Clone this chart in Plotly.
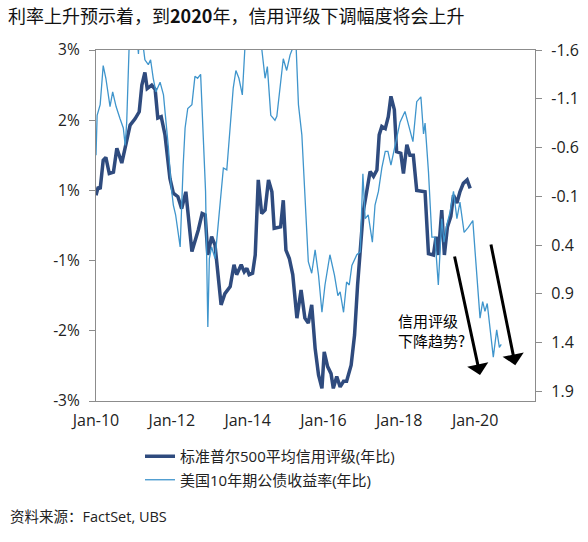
import plotly.graph_objects as go

# ---- data ----
credit_t = [2010.00, 2010.06, 2010.11, 2010.19, 2010.26, 2010.35, 2010.46, 2010.55, 2010.68, 2010.79,
            2010.90, 2011.03, 2011.14, 2011.21, 2011.29, 2011.35, 2011.47, 2011.56, 2011.63, 2011.72,
            2011.82, 2011.95, 2012.04, 2012.16, 2012.26, 2012.37, 2012.53, 2012.70, 2012.80, 2012.88,
            2012.95, 2013.05, 2013.14, 2013.30, 2013.40, 2013.54, 2013.64, 2013.71, 2013.83, 2013.91,
            2013.98, 2014.04, 2014.13, 2014.20, 2014.28, 2014.37, 2014.46, 2014.55, 2014.64, 2014.70,
            2014.87, 2014.94, 2015.01, 2015.10, 2015.19, 2015.30, 2015.41, 2015.51, 2015.60, 2015.69,
            2015.78, 2015.87, 2015.96, 2016.02, 2016.11, 2016.20, 2016.26, 2016.35, 2016.44, 2016.53,
            2016.61, 2016.73, 2016.82, 2016.90, 2016.97, 2017.05, 2017.14, 2017.23, 2017.32, 2017.41,
            2017.47, 2017.54, 2017.63, 2017.71, 2017.78, 2017.87, 2017.93, 2018.04, 2018.11, 2018.20,
            2018.28, 2018.37, 2018.46, 2018.68, 2018.77, 2018.90, 2018.97, 2019.03, 2019.12, 2019.19,
            2019.27, 2019.36, 2019.43, 2019.52, 2019.60, 2019.69, 2019.79, 2019.87]
credit_v = [0.93, 1.05, 1.02, 1.43, 1.47, 1.24, 1.26, 1.60, 1.39, 1.65,
            1.93, 2.02, 2.12, 2.50, 2.68, 2.45, 2.50, 2.44, 2.03, 2.05,
            1.79, 1.17, 0.96, 0.91, 0.74, 0.98, 0.13, 0.44, 0.67, 0.65,
            0.08, 0.34, 0.22, -0.63, -0.47, -0.37, -0.06, -0.20, -0.06, -0.16,
            -0.11, -0.20, -0.18, 0.08, 1.15, 0.67, 0.72, 1.15, 0.98, 0.46,
            0.48, 0.86, 0.15, 0.03, -0.20, -0.82, -0.42, -0.82, -0.89, -0.63,
            -1.25, -1.63, -1.82, -1.30, -1.51, -1.61, -1.82, -1.65, -1.80, -1.72,
            -1.72, -1.49, -1.06, -0.35, 0.10, 0.70, 0.98, 1.27, 1.20, 1.29,
            1.79, 1.91, 1.88, 2.05, 2.34, 2.15, 1.55, 1.53, 1.24, 1.65,
            1.50, 1.50, 1.00, 0.98, 0.10, 0.08, 0.34, 0.08, 0.72, 0.08,
            0.48, 0.63, 0.93, 0.82, 0.98, 1.10, 1.15, 1.03]

yield_t = [2010.00, 2010.03, 2010.11, 2010.19, 2010.26, 2010.37, 2010.44, 2010.53, 2010.63, 2010.72,
           2010.77, 2010.81, 2010.90, 2011.00, 2011.08, 2011.12, 2011.16, 2011.25, 2011.29, 2011.38,
           2011.44, 2011.51, 2011.58, 2011.69, 2011.78, 2011.82, 2011.91, 2011.98, 2012.04, 2012.10,
           2012.22, 2012.30, 2012.35, 2012.42, 2012.53, 2012.61, 2012.68, 2012.76, 2012.83, 2012.89,
           2012.95, 2012.99, 2013.05, 2013.14, 2013.23, 2013.36, 2013.45, 2013.54, 2013.62, 2013.69,
           2013.77, 2013.86, 2013.96, 2014.12, 2014.27, 2014.37, 2014.46, 2014.52, 2014.61, 2014.72,
           2014.77, 2014.94, 2015.03, 2015.12, 2015.23, 2015.28, 2015.34, 2015.43, 2015.51, 2015.60,
           2015.69, 2015.78, 2015.87, 2015.96, 2016.04, 2016.17, 2016.29, 2016.38, 2016.44, 2016.53,
           2016.61, 2016.68, 2016.75, 2016.88, 2016.97, 2017.04, 2017.10, 2017.18, 2017.29, 2017.36,
           2017.45, 2017.54, 2017.63, 2017.70, 2017.78, 2017.87, 2017.93, 2018.02, 2018.15, 2018.27,
           2018.36, 2018.46, 2018.57, 2018.64, 2018.68, 2018.77, 2018.86, 2018.94, 2019.03, 2019.12,
           2019.18, 2019.25, 2019.34, 2019.43, 2019.52, 2019.60, 2019.71, 2019.82, 2019.94, 2020.00,
           2020.09, 2020.13, 2020.20, 2020.26, 2020.32, 2020.40, 2020.48, 2020.57, 2020.64, 2020.69]
yield_v = [-0.52, -0.93, -1.04, -1.44, -1.31, -1.02, -1.17, -1.02, -0.90, -0.80,
           -0.62, -0.86, -1.95, -2.10, -1.75, -1.56, -1.90, -1.62, -1.50, -1.45,
           -1.50, -1.31, -1.17, -1.27, -1.14, -0.97, -0.60, -0.21, -0.01, 0.09,
           0.42, -0.42, -0.80, -1.00, -1.04, -1.33, -1.31, -1.35, -0.73, -0.15,
           1.24, 0.54, 0.42, 0.54, 0.16, -0.39, -0.37, -0.83, -1.21, -1.39,
           -1.31, -1.14, -1.85, -2.00, -1.90, -1.62, -1.31, -1.43, -0.93, -0.88,
           -0.92, -1.51, -1.39, -1.55, -1.66, -1.62, -1.04, -0.73, -0.18, 0.57,
           0.69, 0.45, 0.71, 1.09, 0.81, 0.50, 0.71, 0.92, 0.88, 1.09,
           0.78, 0.81, 0.61, 0.50, 0.47, -0.33, 0.13, 0.09, 0.37, -0.01,
           -0.15, -0.39, -0.56, -0.56, -0.42, -0.58, -0.69, -0.86, -0.97, -0.78,
           -0.66, -1.07, -1.12, -0.74, -0.85, -0.35, 0.32, 0.32, 0.81, 0.13,
           0.37, 0.20, 0.06, -0.15, 0.13, -0.04, 0.27, 0.22, 0.15, 0.47,
           1.00, 1.15, 0.98, 1.08, 1.00, 1.30, 1.55, 1.27, 1.45, 1.42]

x_tickvals = [2010, 2012, 2014, 2016, 2018, 2020]
x_ticktext = ["Jan-10", "Jan-12", "Jan-14", "Jan-16", "Jan-18", "Jan-20"]
left_tickvals = [3, 2, 1, 0, -1, -2]
left_ticktext = ["3%", "2%", "1%", "-1%", "-2%", "-3%"]
right_tickvals = [-1.6, -1.1, -0.6, -0.1, 0.4, 0.9, 1.4, 1.9]
right_ticktext = ["-1.6", "-1.1", "-0.6", "-0.1", "0.4", "0.9", "1.4", "1.9"]

name_credit = "标准普尔500平均信用评级(年比)"
name_yield = "美国10年期公债收益率(年比)"

FONT = "Open Sans, Noto Sans CJK SC, sans-serif"
CJK = "Noto Sans CJK SC, sans-serif"
AXIS_COLOR = "#8c8c8c"

fig = go.Figure()
fig.add_trace(go.Scatter(x=credit_t, y=credit_v, mode="lines", name=name_credit,
                         legendgroup="a", line=dict(color="#2f4b7e", width=3.5)))
fig.add_trace(go.Scatter(x=yield_t, y=yield_v, mode="lines", name=name_yield,
                         legendgroup="b", yaxis="y2", line=dict(color="#3f95cc", width=1.3)))

# arrows and note
arrow_style = dict(showarrow=True, arrowhead=1, arrowsize=1.2, arrowwidth=3, arrowcolor="#000000",
                   xref="x", yref="y", axref="x", ayref="y", text="")
fig.add_annotation(x=2020.13, y=-1.63, ax=2019.45, ay=0.08, **arrow_style)
fig.add_annotation(x=2021.06, y=-1.49, ax=2020.41, ay=0.25, **arrow_style)
fig.add_annotation(x=2017.91, y=-0.99, xref="x", yref="y", xanchor="left", yanchor="middle",
                   text="信用评级<br>下降趋势?", showarrow=False, align="left",
                   font=dict(family=CJK, size=15, color="#000000"))

fig.add_annotation(x=(8 - 96) / 439, y=-(516 - 401) / 351, xref="paper", yref="paper",
                   xanchor="left", yanchor="middle",
                   text="资料来源：FactSet, UBS", showarrow=False,
                   font=dict(family=FONT, size=14.5, color="#222222"))

fig.update_layout(
    width=588, height=542,
    margin=dict(l=96, r=53, t=50, b=141, autoexpand=False),
    paper_bgcolor="white", plot_bgcolor="white",
    font=dict(family=FONT, size=16, color="#222222"),
    title=dict(text="利率上升预示着，到<b>2020</b>年，信用评级下调幅度将会上升",
               x=8 / 588, xanchor="left", xref="container",
               y=1 - 17 / 542, yanchor="middle", yref="container",
               font=dict(family=CJK, size=18, color="#111111")),
    showlegend=True,
    legend=dict(x=140 / 588, y=1 - 440 / 542, xref="container", yref="container",
                xanchor="left", yanchor="top", orientation="v",
                traceorder="grouped", tracegroupgap=1,
                font=dict(family=FONT, size=15, color="#222222"), bgcolor="rgba(0,0,0,0)"),
    xaxis=dict(range=[2010, 2021.58], tickvals=x_tickvals, ticktext=x_ticktext,
               showgrid=False, zeroline=False, showline=True, linecolor=AXIS_COLOR, linewidth=1.2,
               mirror=True, ticks="", tickfont=dict(size=16), ticklabelstandoff=5),
    yaxis=dict(range=[-2.0, 3.0], tickvals=left_tickvals, ticktext=left_ticktext,
               showgrid=False, zeroline=False, showline=True, linecolor=AXIS_COLOR, linewidth=1.2,
               ticks="outside", ticklen=6, tickcolor=AXIS_COLOR, tickfont=dict(size=15.5),
               ticklabelstandoff=6),
    yaxis2=dict(range=[2.0, -1.6], tickvals=right_tickvals, ticktext=right_ticktext,
                overlaying="y", side="right",
                showgrid=False, zeroline=False, showline=True, linecolor=AXIS_COLOR, linewidth=1.2,
                ticks="outside", ticklen=6, tickcolor=AXIS_COLOR, tickfont=dict(size=16),
                ticklabelstandoff=6),
)

fig.write_html("out.html", config={"displayModeBar": False},
               post_script="document.body.style.margin='0';")
